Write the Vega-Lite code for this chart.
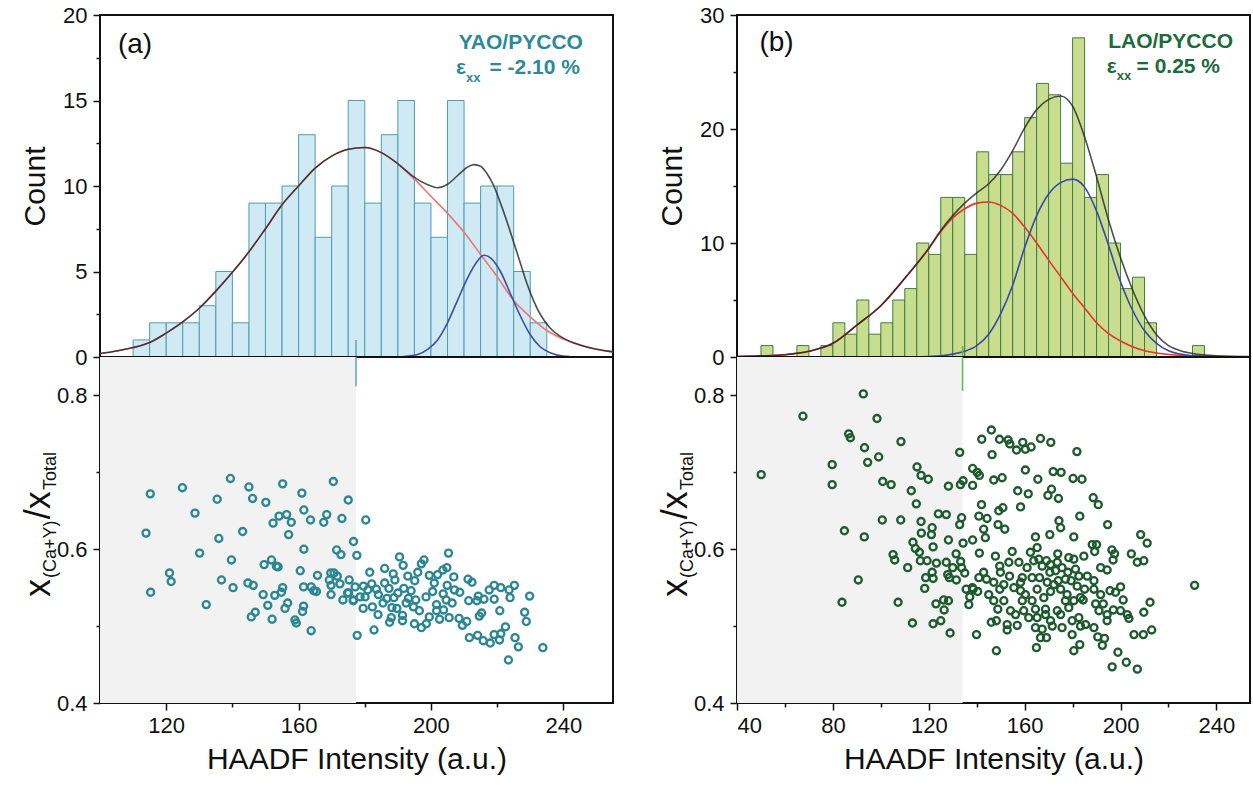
{
"$schema": "https://vega.github.io/schema/vega-lite/v6.json",
"background": "white",
"padding": {"left": 19, "top": 3, "right": 2, "bottom": 2},
"config": {
  "view": {"stroke": "#111111", "strokeWidth": 2},
  "font": "Liberation Sans",
  "axis": {"labelFont": "Liberation Sans", "labelFontSize": 22, "labelColor": "#111111", "titleFont": "Liberation Sans", "titleFontSize": 30, "titleFontWeight": "normal", "titleColor": "#111111", "tickColor": "#111111", "tickWidth": 1.5, "domain": false, "grid": false, "labelPadding": 6, "labelOverlap": false}
},
"datasets": {
  "histA": [{"x":110,"x2":115,"y":1},{"x":115,"x2":120,"y":2},{"x":120,"x2":125,"y":2},{"x":125,"x2":130,"y":2},{"x":130,"x2":135,"y":3},{"x":135,"x2":140,"y":5},{"x":140,"x2":145,"y":2},{"x":145,"x2":150,"y":9},{"x":150,"x2":155,"y":9},{"x":155,"x2":160,"y":10},{"x":160,"x2":165,"y":13},{"x":165,"x2":170,"y":7},{"x":170,"x2":175,"y":10},{"x":175,"x2":180,"y":15},{"x":180,"x2":185,"y":9},{"x":185,"x2":190,"y":13},{"x":190,"x2":195,"y":15},{"x":195,"x2":200,"y":9},{"x":200,"x2":205,"y":7},{"x":205,"x2":210,"y":15},{"x":210,"x2":215,"y":9},{"x":215,"x2":220,"y":10},{"x":220,"x2":225,"y":10},{"x":225,"x2":230,"y":5},{"x":230,"x2":235,"y":2}],
  "histB": [{"x":50,"x2":55,"y":1},{"x":65,"x2":70,"y":1},{"x":75,"x2":80,"y":1},{"x":80,"x2":85,"y":3},{"x":85,"x2":90,"y":2},{"x":90,"x2":95,"y":5},{"x":95,"x2":100,"y":2},{"x":100,"x2":105,"y":3},{"x":105,"x2":110,"y":5},{"x":110,"x2":115,"y":6},{"x":115,"x2":120,"y":10},{"x":120,"x2":125,"y":9},{"x":125,"x2":130,"y":14},{"x":130,"x2":135,"y":14},{"x":135,"x2":140,"y":9},{"x":140,"x2":145,"y":18},{"x":145,"x2":150,"y":16},{"x":150,"x2":155,"y":16},{"x":155,"x2":160,"y":18},{"x":160,"x2":165,"y":21},{"x":165,"x2":170,"y":24},{"x":170,"x2":175,"y":23},{"x":175,"x2":180,"y":17},{"x":180,"x2":185,"y":28},{"x":185,"x2":190,"y":14},{"x":190,"x2":195,"y":16},{"x":195,"x2":200,"y":10},{"x":200,"x2":205,"y":6},{"x":205,"x2":210,"y":7},{"x":210,"x2":215,"y":3},{"x":230,"x2":235,"y":1}],
  "curveA": [
    {"s":"r","x":100,"y":0.2},{"s":"r","x":105,"y":0.35},{"s":"r","x":110,"y":0.55},{"s":"r","x":115,"y":0.85},{"s":"r","x":120,"y":1.4},{"s":"r","x":125,"y":2.05},{"s":"r","x":130,"y":2.85},{"s":"r","x":135,"y":3.85},{"s":"r","x":140,"y":4.95},{"s":"r","x":145,"y":6.15},{"s":"r","x":150,"y":7.5},{"s":"r","x":155,"y":8.9},{"s":"r","x":160,"y":10.0},{"s":"r","x":165,"y":11.05},{"s":"r","x":170,"y":11.75},{"s":"r","x":175,"y":12.15},{"s":"r","x":180,"y":12.25},{"s":"r","x":185,"y":11.95},{"s":"r","x":190,"y":11.3},{"s":"r","x":195,"y":10.4},{"s":"r","x":200,"y":9.4},{"s":"r","x":205,"y":8.4},{"s":"r","x":210,"y":7.3},{"s":"r","x":215,"y":6.0},{"s":"r","x":220,"y":4.7},{"s":"r","x":225,"y":3.3},{"s":"r","x":230,"y":2.35},{"s":"r","x":235,"y":1.55},{"s":"r","x":240,"y":1.05},{"s":"r","x":245,"y":0.7},{"s":"r","x":250,"y":0.45},{"s":"r","x":255,"y":0.3},
    {"s":"b","x":100,"y":0},{"s":"b","x":190,"y":0},{"s":"b","x":193,"y":0.05},{"s":"b","x":196,"y":0.15},{"s":"b","x":199,"y":0.45},{"s":"b","x":202,"y":1.0},{"s":"b","x":205,"y":2.0},{"s":"b","x":208,"y":3.3},{"s":"b","x":211,"y":4.6},{"s":"b","x":214,"y":5.6},{"s":"b","x":216,"y":5.95},{"s":"b","x":218,"y":5.8},{"s":"b","x":221,"y":5.0},{"s":"b","x":224,"y":3.7},{"s":"b","x":227,"y":2.4},{"s":"b","x":230,"y":1.3},{"s":"b","x":233,"y":0.6},{"s":"b","x":236,"y":0.25},{"s":"b","x":240,"y":0.05},{"s":"b","x":245,"y":0},{"s":"b","x":255,"y":0},
    {"s":"k","x":100,"y":0.2},{"s":"k","x":105,"y":0.35},{"s":"k","x":110,"y":0.55},{"s":"k","x":115,"y":0.85},{"s":"k","x":120,"y":1.4},{"s":"k","x":125,"y":2.05},{"s":"k","x":130,"y":2.85},{"s":"k","x":135,"y":3.85},{"s":"k","x":140,"y":4.95},{"s":"k","x":145,"y":6.15},{"s":"k","x":150,"y":7.5},{"s":"k","x":155,"y":8.9},{"s":"k","x":160,"y":10.0},{"s":"k","x":165,"y":11.05},{"s":"k","x":170,"y":11.75},{"s":"k","x":175,"y":12.15},{"s":"k","x":180,"y":12.25},{"s":"k","x":185,"y":11.95},{"s":"k","x":190,"y":11.3},{"s":"k","x":195,"y":10.5},{"s":"k","x":200,"y":10.0},{"s":"k","x":202,"y":9.9},{"s":"k","x":205,"y":10.1},{"s":"k","x":208,"y":10.6},{"s":"k","x":211,"y":11.1},{"s":"k","x":213,"y":11.25},{"s":"k","x":215,"y":11.15},{"s":"k","x":217,"y":10.7},{"s":"k","x":219,"y":10.0},{"s":"k","x":221,"y":9.0},{"s":"k","x":223,"y":7.9},{"s":"k","x":225,"y":6.7},{"s":"k","x":227,"y":5.5},{"s":"k","x":229,"y":4.3},{"s":"k","x":231,"y":3.3},{"s":"k","x":233,"y":2.5},{"s":"k","x":236,"y":1.7},{"s":"k","x":240,"y":1.1},{"s":"k","x":245,"y":0.7},{"s":"k","x":250,"y":0.45},{"s":"k","x":255,"y":0.3}
  ],
  "curveB": [
    {"s":"r","x":40,"y":0.05},{"s":"r","x":50,"y":0.1},{"s":"r","x":60,"y":0.2},{"s":"r","x":70,"y":0.5},{"s":"r","x":80,"y":1.2},{"s":"r","x":90,"y":2.8},{"s":"r","x":100,"y":4.5},{"s":"r","x":110,"y":6.9},{"s":"r","x":120,"y":9.5},{"s":"r","x":125,"y":11.0},{"s":"r","x":130,"y":12.2},{"s":"r","x":135,"y":13.0},{"s":"r","x":140,"y":13.5},{"s":"r","x":145,"y":13.6},{"s":"r","x":150,"y":13.3},{"s":"r","x":155,"y":12.6},{"s":"r","x":160,"y":11.4},{"s":"r","x":165,"y":10.0},{"s":"r","x":170,"y":8.5},{"s":"r","x":175,"y":7.05},{"s":"r","x":180,"y":5.6},{"s":"r","x":185,"y":4.3},{"s":"r","x":190,"y":3.0},{"s":"r","x":195,"y":2.05},{"s":"r","x":200,"y":1.4},{"s":"r","x":205,"y":0.9},{"s":"r","x":210,"y":0.55},{"s":"r","x":215,"y":0.35},{"s":"r","x":220,"y":0.22},{"s":"r","x":230,"y":0.1},{"s":"r","x":240,"y":0.05},{"s":"r","x":254,"y":0.02},
    {"s":"b","x":40,"y":0},{"s":"b","x":110,"y":0},{"s":"b","x":120,"y":0.05},{"s":"b","x":125,"y":0.1},{"s":"b","x":130,"y":0.25},{"s":"b","x":135,"y":0.5},{"s":"b","x":140,"y":1.0},{"s":"b","x":145,"y":2.0},{"s":"b","x":150,"y":3.8},{"s":"b","x":155,"y":6.3},{"s":"b","x":160,"y":9.6},{"s":"b","x":165,"y":12.4},{"s":"b","x":170,"y":14.3},{"s":"b","x":175,"y":15.3},{"s":"b","x":180,"y":15.6},{"s":"b","x":185,"y":14.9},{"s":"b","x":190,"y":12.8},{"s":"b","x":195,"y":9.8},{"s":"b","x":200,"y":6.6},{"s":"b","x":205,"y":4.1},{"s":"b","x":210,"y":2.3},{"s":"b","x":215,"y":1.2},{"s":"b","x":220,"y":0.55},{"s":"b","x":225,"y":0.25},{"s":"b","x":230,"y":0.1},{"s":"b","x":240,"y":0.02},{"s":"b","x":254,"y":0},
    {"s":"k","x":40,"y":0.05},{"s":"k","x":50,"y":0.1},{"s":"k","x":60,"y":0.2},{"s":"k","x":70,"y":0.5},{"s":"k","x":80,"y":1.2},{"s":"k","x":90,"y":2.8},{"s":"k","x":100,"y":4.5},{"s":"k","x":110,"y":6.9},{"s":"k","x":120,"y":9.55},{"s":"k","x":125,"y":11.1},{"s":"k","x":130,"y":12.4},{"s":"k","x":135,"y":13.5},{"s":"k","x":140,"y":14.4},{"s":"k","x":145,"y":15.2},{"s":"k","x":150,"y":16.4},{"s":"k","x":155,"y":18.1},{"s":"k","x":160,"y":20.1},{"s":"k","x":165,"y":21.7},{"s":"k","x":170,"y":22.6},{"s":"k","x":175,"y":22.9},{"s":"k","x":180,"y":22.0},{"s":"k","x":185,"y":19.3},{"s":"k","x":190,"y":15.8},{"s":"k","x":195,"y":12.0},{"s":"k","x":200,"y":8.7},{"s":"k","x":205,"y":5.9},{"s":"k","x":210,"y":3.6},{"s":"k","x":215,"y":1.95},{"s":"k","x":220,"y":1.0},{"s":"k","x":225,"y":0.55},{"s":"k","x":230,"y":0.3},{"s":"k","x":240,"y":0.1},{"s":"k","x":254,"y":0.03}
  ],
  "scatA": [
    {"x":115.2,"y":0.672},{"x":124.9,"y":0.680},{"x":139.4,"y":0.692},{"x":145.0,"y":0.681},{"x":146.1,"y":0.666},{"x":155.2,"y":0.685},{"x":161.0,"y":0.673},{"x":170.5,"y":0.688},{"x":175.0,"y":0.664},{"x":135.4,"y":0.665},{"x":150.1,"y":0.661},{"x":128.7,"y":0.647},{"x":113.9,"y":0.621},{"x":135.9,"y":0.614},{"x":143.1,"y":0.623},{"x":130.1,"y":0.595},{"x":139.7,"y":0.586},{"x":152.3,"y":0.634},{"x":154.1,"y":0.643},{"x":156.4,"y":0.645},{"x":157.8,"y":0.635},{"x":157.0,"y":0.619},{"x":161.6,"y":0.651},{"x":163.6,"y":0.638},{"x":167.6,"y":0.635},{"x":168.5,"y":0.645},{"x":173.1,"y":0.640},{"x":176.6,"y":0.610},{"x":161.6,"y":0.600},{"x":171.5,"y":0.599},{"x":172.8,"y":0.593},{"x":121.0,"y":0.569},{"x":121.5,"y":0.558},{"x":115.3,"y":0.544},{"x":132.1,"y":0.528},{"x":136.7,"y":0.560},{"x":140.2,"y":0.550},{"x":144.7,"y":0.556},{"x":146.3,"y":0.553},{"x":149.6,"y":0.580},{"x":151.8,"y":0.586},{"x":153.3,"y":0.578},{"x":153.8,"y":0.577},{"x":160.5,"y":0.572},{"x":165.7,"y":0.566},{"x":149.3,"y":0.541},{"x":150.7,"y":0.527},{"x":152.8,"y":0.540},{"x":155.2,"y":0.550},{"x":154.8,"y":0.544},{"x":156.7,"y":0.530},{"x":155.9,"y":0.523},{"x":146.9,"y":0.518},{"x":145.7,"y":0.512},{"x":152.0,"y":0.509},{"x":158.9,"y":0.508},{"x":159.3,"y":0.504},{"x":161.5,"y":0.526},{"x":161.2,"y":0.519},{"x":163.8,"y":0.494},{"x":161.5,"y":0.551},{"x":163.8,"y":0.551},{"x":164.6,"y":0.546},{"x":165.4,"y":0.545},{"x":169.7,"y":0.569},{"x":170.7,"y":0.569},{"x":171.7,"y":0.565},{"x":169.3,"y":0.560},{"x":169.8,"y":0.553},{"x":169.8,"y":0.541},{"x":172.5,"y":0.555},{"x":175.3,"y":0.560},{"x":175.1,"y":0.543},{"x":173.4,"y":0.534},{"x":177.6,"y":0.592},{"x":176.5,"y":0.533},{"x":177.1,"y":0.551},{"x":177.7,"y":0.488},
    {"x":180.3,"y":0.638},{"x":174.8,"y":0.543},{"x":176.6,"y":0.534},{"x":182.8,"y":0.495},{"x":179.6,"y":0.552},{"x":182.1,"y":0.555},{"x":180.1,"y":0.538},{"x":182.3,"y":0.525},{"x":184.1,"y":0.541},{"x":186.7,"y":0.536},{"x":187.3,"y":0.549},{"x":188.6,"y":0.568},{"x":189.1,"y":0.560},{"x":191.6,"y":0.579},{"x":191.8,"y":0.549},{"x":188.8,"y":0.537},{"x":188.2,"y":0.524},{"x":189.7,"y":0.523},{"x":188.0,"y":0.511},{"x":191.4,"y":0.514},{"x":191.4,"y":0.507},{"x":193.0,"y":0.565},{"x":195.1,"y":0.559},{"x":193.2,"y":0.536},{"x":194.7,"y":0.525},{"x":195.4,"y":0.534},{"x":195.0,"y":0.503},{"x":197.1,"y":0.498},{"x":198.6,"y":0.503},{"x":198.5,"y":0.538},{"x":197.1,"y":0.581},{"x":197.9,"y":0.586},{"x":201.7,"y":0.528},{"x":201.7,"y":0.520},{"x":202.6,"y":0.509},{"x":203.8,"y":0.521},{"x":203.7,"y":0.542},{"x":204.6,"y":0.534},{"x":204.9,"y":0.553},{"x":203.6,"y":0.573},{"x":204.8,"y":0.576},{"x":206.9,"y":0.564},{"x":205.3,"y":0.595},{"x":207.1,"y":0.547},{"x":206.4,"y":0.530},{"x":205.5,"y":0.511},{"x":208.7,"y":0.544},{"x":208.5,"y":0.510},{"x":209.5,"y":0.501},{"x":210.8,"y":0.506},{"x":211.2,"y":0.561},{"x":212.4,"y":0.557},{"x":211.4,"y":0.533},{"x":213.9,"y":0.533},{"x":214.3,"y":0.539},{"x":216.0,"y":0.535},{"x":214.6,"y":0.513},{"x":215.3,"y":0.517},{"x":211.6,"y":0.485},{"x":214.1,"y":0.488},{"x":215.8,"y":0.481},{"x":217.9,"y":0.478},{"x":219.1,"y":0.489},{"x":220.7,"y":0.482},{"x":221.1,"y":0.490},{"x":222.5,"y":0.499},{"x":223.4,"y":0.456},{"x":225.4,"y":0.485},{"x":226.4,"y":0.473},{"x":233.8,"y":0.472},{"x":217.6,"y":0.547},{"x":219.1,"y":0.553},{"x":219.1,"y":0.535},{"x":221.1,"y":0.550},{"x":220.8,"y":0.520},{"x":223.6,"y":0.547},{"x":223.9,"y":0.537},{"x":225.2,"y":0.553},{"x":229.8,"y":0.539},{"x":228.3,"y":0.518},{"x":228.8,"y":0.506},{"x":178.6,"y":0.538},{"x":179.5,"y":0.523},{"x":180.9,"y":0.547},
    {"x":183.5,"y":0.548},{"x":185.5,"y":0.530},{"x":186.0,"y":0.556},{"x":190.0,"y":0.543},{"x":192.5,"y":0.530},{"x":194.0,"y":0.546},{"x":196.5,"y":0.520},{"x":199.5,"y":0.512},{"x":184.0,"y":0.515},{"x":187.5,"y":0.505},{"x":200.5,"y":0.545},{"x":201.0,"y":0.556},{"x":202.0,"y":0.567},{"x":199.5,"y":0.566},{"x":196.0,"y":0.570},{"x":190.5,"y":0.590},{"x":186.0,"y":0.575},{"x":181.5,"y":0.570}
  ],
  "scatB": [
    {"x":92.7,"y":0.802},{"x":67.5,"y":0.773},{"x":98.4,"y":0.770},{"x":86.6,"y":0.750},{"x":87.3,"y":0.745},{"x":93.2,"y":0.732},{"x":108.4,"y":0.740},{"x":94.5,"y":0.713},{"x":99.1,"y":0.720},{"x":79.7,"y":0.710},{"x":79.7,"y":0.684},{"x":50.1,"y":0.697},{"x":100.8,"y":0.688},{"x":104.3,"y":0.684},{"x":115.1,"y":0.707},{"x":116.8,"y":0.696},{"x":119.8,"y":0.691},{"x":112.7,"y":0.676},{"x":114.8,"y":0.659},{"x":128.2,"y":0.682},{"x":132.9,"y":0.726},{"x":133.2,"y":0.684},{"x":100.6,"y":0.638},{"x":108.3,"y":0.638},{"x":84.8,"y":0.624},{"x":93.1,"y":0.616},{"x":116.8,"y":0.636},{"x":124.0,"y":0.646},{"x":127.3,"y":0.645},{"x":121.4,"y":0.628},{"x":116.9,"y":0.621},{"x":121.1,"y":0.619},{"x":113.4,"y":0.609},{"x":121.8,"y":0.603},{"x":128.2,"y":0.612},{"x":133.7,"y":0.641},{"x":132.9,"y":0.632},{"x":105.1,"y":0.593},{"x":105.8,"y":0.586},{"x":114.4,"y":0.601},{"x":116.1,"y":0.596},{"x":116.5,"y":0.585},{"x":111.2,"y":0.576},{"x":119.3,"y":0.585},{"x":123.2,"y":0.582},{"x":127.3,"y":0.583},{"x":131.4,"y":0.594},{"x":133.3,"y":0.584},{"x":130.0,"y":0.576},{"x":133.7,"y":0.576},{"x":121.4,"y":0.570},{"x":118.7,"y":0.563},{"x":121.8,"y":0.562},{"x":127.9,"y":0.567},{"x":128.6,"y":0.563},{"x":131.5,"y":0.560},{"x":90.6,"y":0.560},{"x":118.3,"y":0.549},{"x":83.8,"y":0.531},{"x":107.2,"y":0.531},{"x":123.0,"y":0.529},{"x":126.2,"y":0.534},{"x":128.2,"y":0.533},{"x":126.4,"y":0.521},{"x":113.2,"y":0.504},{"x":121.8,"y":0.503},{"x":125.0,"y":0.507},{"x":128.9,"y":0.491},{"x":135.6,"y":0.548},{"x":137.1,"y":0.538},{"x":136.7,"y":0.528},{"x":135.0,"y":0.569},{"x":138.2,"y":0.550},{"x":139.9,"y":0.489},{"x":134.3,"y":0.689},{"x":138.3,"y":0.683},{"x":138.3,"y":0.705},{"x":140.2,"y":0.700},{"x":134.3,"y":0.608},{"x":138.3,"y":0.612},
    {"x":146.1,"y":0.755},{"x":142.1,"y":0.743},{"x":149.5,"y":0.743},{"x":153.1,"y":0.742},{"x":153.8,"y":0.737},{"x":156.6,"y":0.729},{"x":159.2,"y":0.739},{"x":160.3,"y":0.730},{"x":162.7,"y":0.733},{"x":166.6,"y":0.744},{"x":170.9,"y":0.739},{"x":146.4,"y":0.723},{"x":181.8,"y":0.727},{"x":141.1,"y":0.696},{"x":147.1,"y":0.690},{"x":150.6,"y":0.693},{"x":160.3,"y":0.703},{"x":165.5,"y":0.691},{"x":171.9,"y":0.701},{"x":175.2,"y":0.700},{"x":180.2,"y":0.692},{"x":183.9,"y":0.691},{"x":157.1,"y":0.676},{"x":161.5,"y":0.672},{"x":169.7,"y":0.670},{"x":171.2,"y":0.678},{"x":174.1,"y":0.666},{"x":188.6,"y":0.667},{"x":190.7,"y":0.658},{"x":142.0,"y":0.658},{"x":149.2,"y":0.650},{"x":150.9,"y":0.654},{"x":158.3,"y":0.655},{"x":140.9,"y":0.643},{"x":144.3,"y":0.640},{"x":148.9,"y":0.632},{"x":151.7,"y":0.626},{"x":142.9,"y":0.626},{"x":143.6,"y":0.615},{"x":174.3,"y":0.637},{"x":175.0,"y":0.628},{"x":183.0,"y":0.643},{"x":194.6,"y":0.632},{"x":170.5,"y":0.619},{"x":164.5,"y":0.616},{"x":180.5,"y":0.616},{"x":208.4,"y":0.619},{"x":211.1,"y":0.608},{"x":141.1,"y":0.595},{"x":147.8,"y":0.591},{"x":154.8,"y":0.597},{"x":162.4,"y":0.596},{"x":165.2,"y":0.602},{"x":173.8,"y":0.594},{"x":178.4,"y":0.589},{"x":184.7,"y":0.591},{"x":188.2,"y":0.606},{"x":190.0,"y":0.606},{"x":189.2,"y":0.597},{"x":196.4,"y":0.599},{"x":197.5,"y":0.594},{"x":196.9,"y":0.586},{"x":204.5,"y":0.594},{"x":207.0,"y":0.583},{"x":209.7,"y":0.585},{"x":153.4,"y":0.583},{"x":157.6,"y":0.583},{"x":165.9,"y":0.587},{"x":169.1,"y":0.585},{"x":170.8,"y":0.580},{"x":175.6,"y":0.576},{"x":180.5,"y":0.587},{"x":182.6,"y":0.565},{"x":186.1,"y":0.565},{"x":191.7,"y":0.576},{"x":194.4,"y":0.573},{"x":149.6,"y":0.578},{"x":149.9,"y":0.570},{"x":140.9,"y":0.563},{"x":142.9,"y":0.570},{"x":144.1,"y":0.561},{"x":153.7,"y":0.565},{"x":159.0,"y":0.563},{"x":163.1,"y":0.563},{"x":166.2,"y":0.563},{"x":170.5,"y":0.570},{"x":172.9,"y":0.572},{"x":178.0,"y":0.570},{"x":179.4,"y":0.559},{"x":174.0,"y":0.559},{"x":169.4,"y":0.557},{"x":158.3,"y":0.557},{"x":188.9,"y":0.559},{"x":138.5,"y":0.548},{"x":140.4,"y":0.545},{"x":149.6,"y":0.548},{"x":158.3,"y":0.546},{"x":160.3,"y":0.541},{"x":165.2,"y":0.548},{"x":170.8,"y":0.545},{"x":175.0,"y":0.548},{"x":181.9,"y":0.552},{"x":185.0,"y":0.548},{"x":188.9,"y":0.548},{"x":195.6,"y":0.546},{"x":197.9,"y":0.544},{"x":200.0,"y":0.551},{"x":147.1,"y":0.533},{"x":148.8,"y":0.522},{"x":154.1,"y":0.520},{"x":159.0,"y":0.533},{"x":163.1,"y":0.533},{"x":164.5,"y":0.522},{"x":168.7,"y":0.522},{"x":173.6,"y":0.520},{"x":178.4,"y":0.524},{"x":180.5,"y":0.533},{"x":184.4,"y":0.534},{"x":189.6,"y":0.529},{"x":191.0,"y":0.520},{"x":192.8,"y":0.529},{"x":197.0,"y":0.521},{"x":201.1,"y":0.534},{"x":202.8,"y":0.515},{"x":203.5,"y":0.510},{"x":209.7,"y":0.518},{"x":212.3,"y":0.531},{"x":146.1,"y":0.505},{"x":148.2,"y":0.507},{"x":152.7,"y":0.502},{"x":156.9,"y":0.501},{"x":164.5,"y":0.498},{"x":167.3,"y":0.496},{"x":171.5,"y":0.500},{"x":175.6,"y":0.498},{"x":179.8,"y":0.507},{"x":183.3,"y":0.500},{"x":188.9,"y":0.498},{"x":190.5,"y":0.486},{"x":194.4,"y":0.507},{"x":193.3,"y":0.484},{"x":205.6,"y":0.489},{"x":209.5,"y":0.489},{"x":213.0,"y":0.495},{"x":148.2,"y":0.468},{"x":152.7,"y":0.495},{"x":164.9,"y":0.472},{"x":166.6,"y":0.485},{"x":169.1,"y":0.485},{"x":179.8,"y":0.489},{"x":180.5,"y":0.468},{"x":183.0,"y":0.476},{"x":192.4,"y":0.475},{"x":198.9,"y":0.466},{"x":196.5,"y":0.447},{"x":202.4,"y":0.453},{"x":207.0,"y":0.444},{"x":230.9,"y":0.553},
    {"x":161.0,"y":0.576},{"x":163.8,"y":0.585},{"x":167.3,"y":0.578},{"x":173.6,"y":0.583},{"x":177.0,"y":0.561},{"x":181.2,"y":0.574},{"x":165.2,"y":0.511},{"x":168.7,"y":0.515},{"x":159.6,"y":0.520},{"x":161.7,"y":0.511},{"x":182.6,"y":0.511},{"x":185.4,"y":0.502},{"x":177.0,"y":0.533},{"x":168.0,"y":0.537},{"x":172.2,"y":0.554},{"x":177.7,"y":0.541},{"x":175.0,"y":0.515},{"x":170.8,"y":0.507},{"x":183.3,"y":0.537},{"x":151.3,"y":0.554},{"x":155.5,"y":0.550},{"x":147.1,"y":0.557},{"x":145.0,"y":0.541},{"x":151.3,"y":0.533},{"x":156.2,"y":0.515},{"x":191.7,"y":0.541},{"x":194.4,"y":0.515},{"x":200.0,"y":0.520}
  ]
},
"columns": 2,
"spacing": {"row": 0, "column": 124},
"bounds": "flush",
"concat": [
  {
    "width": 513, "height": 342,
    "encoding": {
      "x": {"field": "x", "type": "quantitative", "scale": {"domain": [100, 255], "nice": false, "zero": false}, "axis": null},
      "y": {"field": "y", "type": "quantitative", "scale": {"domain": [0, 20], "nice": false}, "axis": {"title": "Count", "titlePadding": 12, "values": [0, 2.5, 5, 7.5, 10, 12.5, 15, 17.5, 20], "labelExpr": "datum.value % 5 === 0 ? datum.label : ''", "tickSize": {"condition": {"test": "datum.value % 5 !== 0", "value": 4}, "value": 7}}}
    },
    "layer": [
      {"data": {"name": "histA"}, "mark": {"type": "bar", "fill": "#cfe9f5", "stroke": "#4e9ead", "strokeWidth": 1}, "encoding": {"x2": {"field": "x2"}, "y2": {"datum": 0}}},
      {"data": {"name": "curveA"}, "transform": [{"filter": "datum.s === 'r'"}], "mark": {"type": "line", "color": "#f27474", "strokeWidth": 1.6, "interpolate": "monotone"}, "encoding": {}},
      {"data": {"name": "curveA"}, "transform": [{"filter": "datum.s === 'b'"}], "mark": {"type": "line", "color": "#3d4ea3", "strokeWidth": 1.6, "interpolate": "monotone"}, "encoding": {}},
      {"data": {"name": "curveA"}, "transform": [{"filter": "datum.s === 'k'"}], "mark": {"type": "line", "color": "#222222", "opacity": 0.8, "strokeWidth": 1.6, "interpolate": "monotone"}, "encoding": {}},
      {"data": {"values": [{"x": 177.35, "y": 0, "y2": 1.0}]}, "mark": {"type": "rule", "color": "#58a6b3", "strokeWidth": 1.5}, "encoding": {"y2": {"field": "y2"}}},
      {"data": {"values": [{"x": 110.6, "y": 17.8, "t": "(a)"}]}, "mark": {"type": "text", "fontSize": 28, "align": "center", "baseline": "alphabetic", "color": "#111111"}, "encoding": {"text": {"field": "t"}}},
      {"data": {"values": [{"x": 245.9, "y": 18.0, "t": "YAO/PYCCO"}, {"x": 245.0, "y": 16.55, "t": "= -2.10 %"}]}, "mark": {"type": "text", "fontSize": 21, "fontWeight": "bold", "align": "right", "baseline": "alphabetic", "color": "#2b8a99"}, "encoding": {"text": {"field": "t"}}},
      {"data": {"values": [{"x": 207.6, "y": 16.55, "t": "ε"}]}, "mark": {"type": "text", "fontSize": 21, "fontWeight": "bold", "align": "left", "baseline": "alphabetic", "color": "#2b8a99"}, "encoding": {"text": {"field": "t"}}},
      {"data": {"values": [{"x": 210.6, "y": 16.1, "t": "xx"}]}, "mark": {"type": "text", "fontSize": 13, "fontWeight": "bold", "align": "left", "baseline": "alphabetic", "color": "#2b8a99"}, "encoding": {"text": {"field": "t"}}}
    ]
  },
  {
    "width": 513, "height": 342,
    "encoding": {
      "x": {"field": "x", "type": "quantitative", "scale": {"domain": [40, 254], "nice": false, "zero": false}, "axis": null},
      "y": {"field": "y", "type": "quantitative", "scale": {"domain": [0, 30], "nice": false}, "axis": {"title": "Count", "titlePadding": 12, "values": [0, 5, 10, 15, 20, 25, 30], "labelExpr": "datum.value % 10 === 0 ? datum.label : ''", "tickSize": {"condition": {"test": "datum.value % 10 !== 0", "value": 4}, "value": 7}}}
    },
    "layer": [
      {"data": {"name": "histB"}, "mark": {"type": "bar", "fill": "#c8de8e", "stroke": "#3f7c42", "strokeWidth": 1}, "encoding": {"x2": {"field": "x2"}, "y2": {"datum": 0}}},
      {"data": {"name": "curveB"}, "transform": [{"filter": "datum.s === 'r'"}], "mark": {"type": "line", "color": "#e8322a", "strokeWidth": 1.6, "interpolate": "monotone"}, "encoding": {}},
      {"data": {"name": "curveB"}, "transform": [{"filter": "datum.s === 'b'"}], "mark": {"type": "line", "color": "#3b47a8", "strokeWidth": 1.6, "interpolate": "monotone"}, "encoding": {}},
      {"data": {"name": "curveB"}, "transform": [{"filter": "datum.s === 'k'"}], "mark": {"type": "line", "color": "#222222", "opacity": 0.8, "strokeWidth": 1.6, "interpolate": "monotone"}, "encoding": {}},
      {"data": {"values": [{"x": 134.1, "y": 0, "y2": 0.96}]}, "mark": {"type": "rule", "color": "#5cb860", "strokeWidth": 1.5}, "encoding": {"y2": {"field": "y2"}}},
      {"data": {"values": [{"x": 56.5, "y": 26.8, "t": "(b)"}]}, "mark": {"type": "text", "fontSize": 28, "align": "center", "baseline": "alphabetic", "color": "#111111"}, "encoding": {"text": {"field": "t"}}},
      {"data": {"values": [{"x": 246.9, "y": 27.1, "t": "LAO/PYCCO"}, {"x": 241.5, "y": 24.9, "t": "= 0.25 %"}]}, "mark": {"type": "text", "fontSize": 21, "fontWeight": "bold", "align": "right", "baseline": "alphabetic", "color": "#1d6b3c"}, "encoding": {"text": {"field": "t"}}},
      {"data": {"values": [{"x": 194.2, "y": 24.9, "t": "ε"}]}, "mark": {"type": "text", "fontSize": 21, "fontWeight": "bold", "align": "left", "baseline": "alphabetic", "color": "#1d6b3c"}, "encoding": {"text": {"field": "t"}}},
      {"data": {"values": [{"x": 198.4, "y": 24.3, "t": "xx"}]}, "mark": {"type": "text", "fontSize": 13, "fontWeight": "bold", "align": "left", "baseline": "alphabetic", "color": "#1d6b3c"}, "encoding": {"text": {"field": "t"}}}
    ]
  },
  {
    "width": 513, "height": 346,
    "encoding": {
      "x": {"field": "x", "type": "quantitative", "scale": {"domain": [100, 255], "nice": false, "zero": false}, "axis": {"title": "HAADF Intensity (a.u.)", "titlePadding": 8, "values": [120, 140, 160, 180, 200, 220, 240], "labelExpr": "datum.value % 40 === 0 ? datum.label : ''", "labelPadding": 5, "tickSize": {"condition": {"test": "datum.value % 40 !== 0", "value": 4}, "value": 7}}},
      "y": {"field": "y", "type": "quantitative", "scale": {"domain": [0.4, 0.85], "nice": false, "zero": false}, "axis": {"title": null, "values": [0.4, 0.5, 0.6, 0.7, 0.8], "labelExpr": "abs(datum.value * 10 % 2 - 1) < 0.01 ? '' : format(datum.value, '.1f')", "tickSize": {"condition": {"test": "abs(datum.value * 10 % 2 - 1) < 0.01", "value": 4}, "value": 7}}}
    },
    "layer": [
      {"data": {"values": [{"x": 100, "x2": 177.35, "y": 0.4, "y2": 0.85}]}, "mark": {"type": "rect", "fill": "#f2f2f2"}, "encoding": {"x2": {"field": "x2"}, "y2": {"field": "y2"}}},
      {"data": {"values": [{"x": 177.35, "y": 0.812, "y2": 0.85}]}, "mark": {"type": "rule", "color": "#58a6b3", "strokeWidth": 1.5}, "encoding": {"y2": {"field": "y2"}}},
      {"data": {"name": "scatA"}, "mark": {"type": "point", "shape": "circle", "filled": false, "size": 50, "strokeWidth": 2.3, "color": "#2b8694", "opacity": 1}, "encoding": {}},
      {"data": {"values": [{"x": 100, "y": 0.538, "t": "x"}, {"x": 100, "y": 0.639, "t": "/x"}]}, "mark": {"type": "text", "angle": 270, "align": "left", "baseline": "alphabetic", "fontSize": 36, "dy": -50, "color": "#111111"}, "encoding": {"text": {"field": "t"}}},
      {"data": {"values": [{"x": 100, "y": 0.5626, "t": "(Ca+Y)"}, {"x": 100, "y": 0.677, "t": "Total"}]}, "mark": {"type": "text", "angle": 270, "align": "left", "baseline": "alphabetic", "fontSize": 18, "dy": -44, "color": "#111111"}, "encoding": {"text": {"field": "t"}}}
    ]
  },
  {
    "width": 513, "height": 346,
    "encoding": {
      "x": {"field": "x", "type": "quantitative", "scale": {"domain": [40, 254], "nice": false, "zero": false}, "axis": {"title": "HAADF Intensity (a.u.)", "titlePadding": 8, "values": [40, 60, 80, 100, 120, 140, 160, 180, 200, 220, 240], "labelExpr": "datum.value % 40 === 0 ? datum.label : ''", "labelPadding": 5, "tickSize": {"condition": {"test": "datum.value % 40 !== 0", "value": 4}, "value": 7}}},
      "y": {"field": "y", "type": "quantitative", "scale": {"domain": [0.4, 0.85], "nice": false, "zero": false}, "axis": {"title": null, "values": [0.4, 0.5, 0.6, 0.7, 0.8], "labelExpr": "abs(datum.value * 10 % 2 - 1) < 0.01 ? '' : format(datum.value, '.1f')", "tickSize": {"condition": {"test": "abs(datum.value * 10 % 2 - 1) < 0.01", "value": 4}, "value": 7}}}
    },
    "layer": [
      {"data": {"values": [{"x": 40, "x2": 134.1, "y": 0.4, "y2": 0.85}]}, "mark": {"type": "rect", "fill": "#f2f2f2"}, "encoding": {"x2": {"field": "x2"}, "y2": {"field": "y2"}}},
      {"data": {"values": [{"x": 134.1, "y": 0.806, "y2": 0.85}]}, "mark": {"type": "rule", "color": "#5cb860", "strokeWidth": 1.5}, "encoding": {"y2": {"field": "y2"}}},
      {"data": {"name": "scatB"}, "mark": {"type": "point", "shape": "circle", "filled": false, "size": 50, "strokeWidth": 2.3, "color": "#1d5a2e", "opacity": 1}, "encoding": {}},
      {"data": {"values": [{"x": 40, "y": 0.538, "t": "x"}, {"x": 40, "y": 0.639, "t": "/x"}]}, "mark": {"type": "text", "angle": 270, "align": "left", "baseline": "alphabetic", "fontSize": 36, "dy": -50, "color": "#111111"}, "encoding": {"text": {"field": "t"}}},
      {"data": {"values": [{"x": 40, "y": 0.5626, "t": "(Ca+Y)"}, {"x": 40, "y": 0.677, "t": "Total"}]}, "mark": {"type": "text", "angle": 270, "align": "left", "baseline": "alphabetic", "fontSize": 18, "dy": -44, "color": "#111111"}, "encoding": {"text": {"field": "t"}}}
    ]
  }
]
}
